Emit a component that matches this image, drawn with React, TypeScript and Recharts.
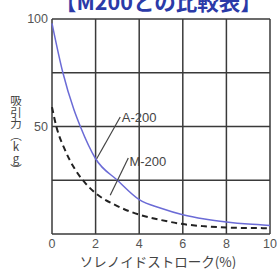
import { LineChart, Line, XAxis, YAxis, CartesianGrid, ReferenceLine, ReferenceDot } from "recharts"

// stroke (x) vs pull force (kg)
const strokeA = [0, 0.5, 1, 1.3, 2, 3, 4, 5, 6, 7, 8, 9, 10]
const forceA = [98, 75, 58, 50, 35, 25, 16, 12, 9, 7, 5.6, 4.6, 4]
const strokeM = [0, 0.2, 0.6, 1, 1.5, 2, 3, 4, 5, 6, 7, 8, 9, 10]
const forceM = [59, 50, 39, 31, 24, 19, 13, 9, 6.5, 4.6, 3.6, 3, 2.8, 2.7]

const xTicks = [0, 2, 4, 6, 8, 10]
const yTicks = [0, 25, 50, 75, 100]
const yLabels = ["50", "100"]

const title = "【M200との比較表】"
const xTitle = "ソレノイドストローク(%)"
const yTitle = "吸引力︵kg︶"

const dataA = strokeA.map((x, i) => ({ x, y: forceA[i] }))
const dataM = strokeM.map((x, i) => ({ x, y: forceM[i] }))

const tickFont = { fontSize: 12.5, fill: "#555", fontFamily: "Liberation Sans, Arial, sans-serif" }
const jpFont = "Noto Sans CJK JP, sans-serif"

export default function App() {
  return (
    <div style={{ position: "absolute", left: 0, top: 0, width: 277, height: 269, overflow: "hidden", background: "#fff" }}>
      <div
        style={{
          position: "absolute",
          left: 55,
          top: -15,
          fontSize: 21.5,
          fontWeight: "bold",
          color: "#2b3aa8",
          fontFamily: jpFont,
          whiteSpace: "nowrap",
        }}
      >
        {title}
      </div>
      <svg width={277} height={269} style={{ position: "absolute", left: 0, top: 0, pointerEvents: "none" }}>
        <text
          x={16}
          y={95}
          fontSize={11.5}
          fill="#444"
          fontFamily={jpFont}
          style={{ writingMode: "vertical-rl", textOrientation: "upright" }}
        >
          {yTitle}
        </text>
        <text x={158} y={267} textAnchor="middle" fontSize={13.5} fill="#444" fontFamily={jpFont}>
          {xTitle}
        </text>
      </svg>
      <LineChart width={277} height={269} margin={{ top: 19, right: 7, left: 0, bottom: 0 }}>
        <CartesianGrid stroke="#3a3a3a" strokeWidth={1.5} />
        <XAxis
          dataKey="x"
          type="number"
          domain={[0, 10]}
          ticks={xTicks}
          height={35}
          axisLine={false}
          tickLine={false}
          tickSize={0}
          tickMargin={5}
          tick={tickFont}
          interval={0}
        />
        <YAxis
          type="number"
          domain={[0, 100]}
          ticks={yTicks}
          width={52}
          axisLine={false}
          tickLine={false}
          tickSize={0}
          tickMargin={4}
          tick={tickFont}
          interval={0}
          tickFormatter={(v: number) => (yLabels.includes(String(v)) ? String(v) : "")}
        />
        <Line
          data={dataA}
          dataKey="y"
          type="monotone"
          stroke="#6b6bd6"
          strokeWidth={1.5}
          dot={false}
          isAnimationActive={false}
        />
        <Line
          data={dataM}
          dataKey="y"
          type="monotone"
          stroke="#222"
          strokeWidth={2}
          strokeDasharray="6 4"
          dot={false}
          isAnimationActive={false}
        />
        <ReferenceLine segment={[{ x: 2.05, y: 35 }, { x: 3.13, y: 54.4 }]} stroke="#444" strokeWidth={1.2} />
        <ReferenceLine segment={[{ x: 2.67, y: 18 }, { x: 3.5, y: 35.3 }]} stroke="#444" strokeWidth={1.2} />
        <ReferenceDot
          x={3.2}
          y={54.4}
          r={0}
          fill="none"
          stroke="none"
          label={{ value: "A-200", position: "right", offset: 0, fontSize: 13, fill: "#444", fontFamily: "Liberation Sans, Arial, sans-serif" }}
        />
        <ReferenceDot
          x={3.55}
          y={34}
          r={0}
          fill="none"
          stroke="none"
          label={{ value: "M-200", position: "right", offset: 0, fontSize: 13, fill: "#444", fontFamily: "Liberation Sans, Arial, sans-serif" }}
        />
      </LineChart>
    </div>
  )
}
